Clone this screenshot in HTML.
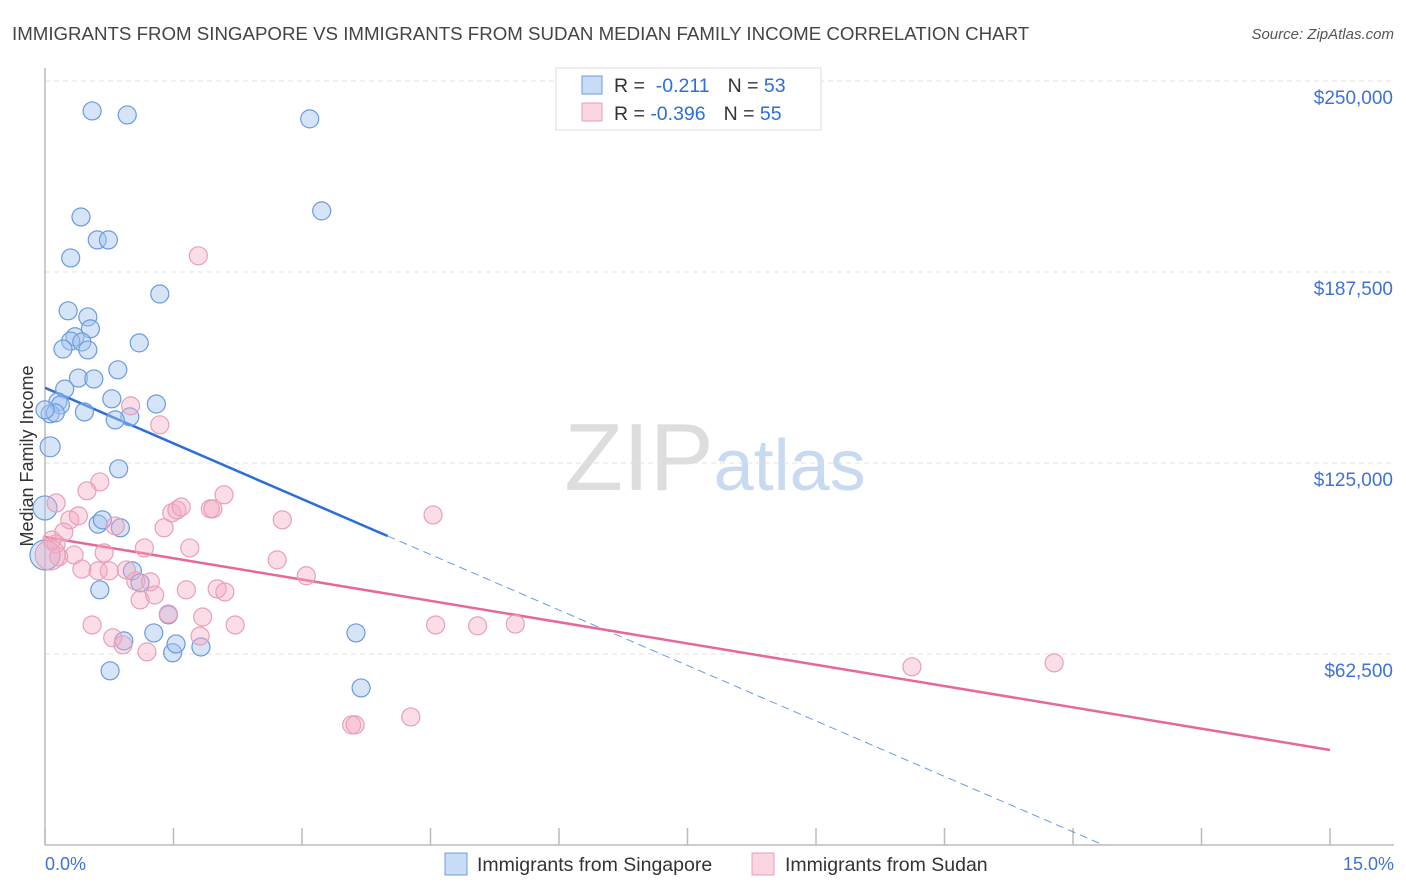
<!DOCTYPE html>
<html><head><meta charset="utf-8"><style>
html,body{margin:0;padding:0;background:#fff;overflow:hidden;width:1406px;height:892px;font-family:"Liberation Sans",sans-serif;}
svg{display:block;}
svg text{font-family:"Liberation Sans",sans-serif;}
</style></head><body>
<svg id="chart" width="1406" height="892" xmlns="http://www.w3.org/2000/svg">
<text x="12" y="40" font-size="18.7" fill="#444">IMMIGRANTS FROM SINGAPORE VS IMMIGRANTS FROM SUDAN MEDIAN FAMILY INCOME CORRELATION CHART</text>
<text x="1394" y="39" font-size="15" fill="#555" font-style="italic" text-anchor="end">Source: ZipAtlas.com</text>
<text x="715" y="490" font-size="96" text-anchor="middle" fill="#ddd" font-family="Liberation Serif">ZIP<tspan fill="#c8daf2" font-family="Liberation Sans" font-size="72">atlas</tspan></text>
<g id="grid"></g>
<g id="axes"></g>
<defs><clipPath id="plotclip"><rect x="45" y="68" width="1350" height="777"/></clipPath></defs>
<g id="lines" clip-path="url(#plotclip)"></g>
<g id="points"></g>
<text transform="translate(33,456) rotate(-90)" font-size="18" fill="#333" text-anchor="middle">Median Family Income</text>
<g>
<rect x="556" y="68" width="265" height="62" fill="#fff" stroke="#ddd"/>
<rect x="582" y="76" width="20" height="18" fill="rgba(164,196,240,0.6)" stroke="#6a9be0"/>
<rect x="582" y="103" width="20" height="18" fill="rgba(244,170,195,0.5)" stroke="#e8a0b8"/>
<text x="614" y="92" font-size="19.5" fill="#333">R = <tspan fill="#2b6fd6">&#160;-0.211</tspan><tspan dx="18" fill="#333">N = </tspan><tspan fill="#2b6fd6">53</tspan></text>
<text x="614" y="120" font-size="19.5" fill="#333">R = <tspan fill="#2b6fd6">-0.396</tspan><tspan dx="18" fill="#333">N = </tspan><tspan fill="#2b6fd6">55</tspan></text>
</g>
<text x="45" y="870" font-size="18" fill="#3d72d6">0.0%</text>
<text x="1394" y="870" font-size="18" fill="#3d72d6" text-anchor="end">15.0%</text>
<g>
<rect x="445" y="853" width="22" height="22" fill="rgba(164,196,240,0.6)" stroke="#6a9be0"/>
<text x="477" y="871" font-size="19.5" fill="#333">Immigrants from Singapore</text>
<rect x="752" y="853" width="22" height="22" fill="rgba(244,170,195,0.5)" stroke="#e8a0b8"/>
<text x="785" y="871" font-size="19.5" fill="#333">Immigrants from Sudan</text>
</g>
</svg>
<script>
const yTicks=[62.5,125,187.5,250];
const yTickLabels=["$62,500","$125,000","$187,500","$250,000"];
const xTicks=[0,1.5,3,4.5,6,7.5,9,10.5,12,13.5,15];
const blueX=[0.55,0.96,3.09,3.23,0.42,0.61,0.74,0.30,1.34,0.27,0.50,0.53,0.35,0.30,0.43,0.21,0.50,1.10,0.85,0.39,0.57,0.23,0.15,0.18,0.78,1.30,0.46,0.06,0.12,0.99,0.82,0.06,0.86,0.0,0.62,0.67,0.88,1.02,1.11,0.64,1.44,1.27,0.92,1.49,1.53,1.82,0.76,3.63,3.69,0.0,0.0];
const blueY=[240.2,238.9,237.6,207.5,205.5,198.0,198.0,192.1,180.3,174.8,172.8,168.9,166.3,164.9,164.6,162.3,162.0,164.3,155.5,152.8,152.5,149.2,145.0,144.0,146.0,144.3,141.7,141.1,141.4,140.1,139.1,130.3,123.1,110.3,105.0,106.4,103.8,89.7,85.8,83.5,75.3,69.4,66.8,62.9,65.8,64.8,57.0,69.4,51.4,94.9,142.4];
const blueR=[9,9,9,9,9,9,9,9,9,9,9,9,9,9,9,9,9,9,9,9,9,9,9,9,9,9,9,9,9,9,9,10,9,12,9,9,9,9,9,9,9,9,9,9,9,9,9,9,9,15,9];
const pinkX=[1.79,0.13,0.64,0.49,0.29,0.39,0.22,0.13,0.08,0.16,0.34,0.69,1.16,0.82,1.00,1.34,1.39,1.48,1.54,1.59,1.93,1.96,2.09,1.69,2.77,2.71,3.05,4.53,0.43,0.62,0.75,0.95,1.06,1.23,1.11,1.28,1.65,2.01,2.10,1.44,1.84,2.22,0.55,0.79,0.91,1.19,1.81,4.56,5.05,5.49,3.58,3.62,4.27,10.12,11.78,0.06];
const pinkY=[192.8,111.9,118.8,115.9,106.4,107.7,102.4,98.5,99.8,94.3,94.9,95.6,97.2,104.4,143.7,137.5,103.8,108.7,109.6,110.6,110.0,110.0,114.6,97.2,106.4,93.3,88.1,108.0,90.3,89.7,89.7,90.0,86.4,86.1,80.2,81.8,83.5,83.8,82.8,75.6,74.6,72.0,72.0,67.8,65.5,63.2,68.4,72.0,71.7,72.3,39.3,39.3,41.9,58.3,59.6,94.9];
const blueLine=[0,149.6,4,101.1,15,-32.0];
const pinkLine=[0,100.8,15,31.1];
const NS="http://www.w3.org/2000/svg";
const X=v=>45+v*(1330-45)/15;
const Y=v=>845-v*(845-81)/250;
function mk(tag,attrs,parent){const e=document.createElementNS(NS,tag);for(const k in attrs)e.setAttribute(k,attrs[k]);parent.appendChild(e);return e;}
const grid=document.getElementById('grid'),axes=document.getElementById('axes'),lines=document.getElementById('lines'),pts=document.getElementById('points');
yTicks.forEach((t,i)=>{
 const l=mk('line',{x1:45,x2:1394,y1:Y(t),y2:Y(t),stroke:'#e2e2e2','stroke-dasharray':'5,4'},grid);
 
 
 const tx=mk('text',{x:1393,y:Y(t)+23,'font-size':19,fill:'#3d72d6','text-anchor':'end'},grid);
 tx.textContent=yTickLabels[i];
 
 
});
mk('line',{x1:45,x2:45,y1:68,y2:845,stroke:'#bbb','stroke-width':1.5},axes);
mk('line',{x1:45,x2:1394,y1:845,y2:845,stroke:'#bbb','stroke-width':1.5},axes);
xTicks.forEach(t=>{
 const k=mk('line',{x1:X(t),x2:X(t),y1:828,y2:845,stroke:'#bbb','stroke-width':1.5},axes);
 
 
});
const bs=mk('line',{x1:X(blueLine[0]),y1:Y(blueLine[1]),x2:X(blueLine[2]),y2:Y(blueLine[3]),stroke:'#2b6fd6','stroke-width':2.5},lines);


const bd=mk('line',{x1:X(blueLine[2]),y1:Y(blueLine[3]),x2:X(blueLine[4]),y2:Y(blueLine[5]),stroke:'#6a9be0','stroke-width':1,'stroke-dasharray':'8,5'},lines);


const pl=mk('line',{x1:X(pinkLine[0]),y1:Y(pinkLine[1]),x2:X(pinkLine[2]),y2:Y(pinkLine[3]),stroke:'#e8679a','stroke-width':2.5},lines);


blueX.forEach((v,i)=>{
 const c=mk('circle',{cx:X(v),cy:Y(blueY[i]),r:blueR[i],fill:'rgba(164,196,240,0.45)',stroke:'#6a9be0','stroke-width':1.2},pts);
 
 
});
pinkX.forEach((v,i)=>{
 const c=mk('circle',{cx:X(v),cy:Y(pinkY[i]),r:i==pinkX.length-1?15:9,fill:'rgba(244,170,195,0.4)',stroke:'#e8a0b8','stroke-width':1.2},pts);
 
 
});
</script>
</body></html>
